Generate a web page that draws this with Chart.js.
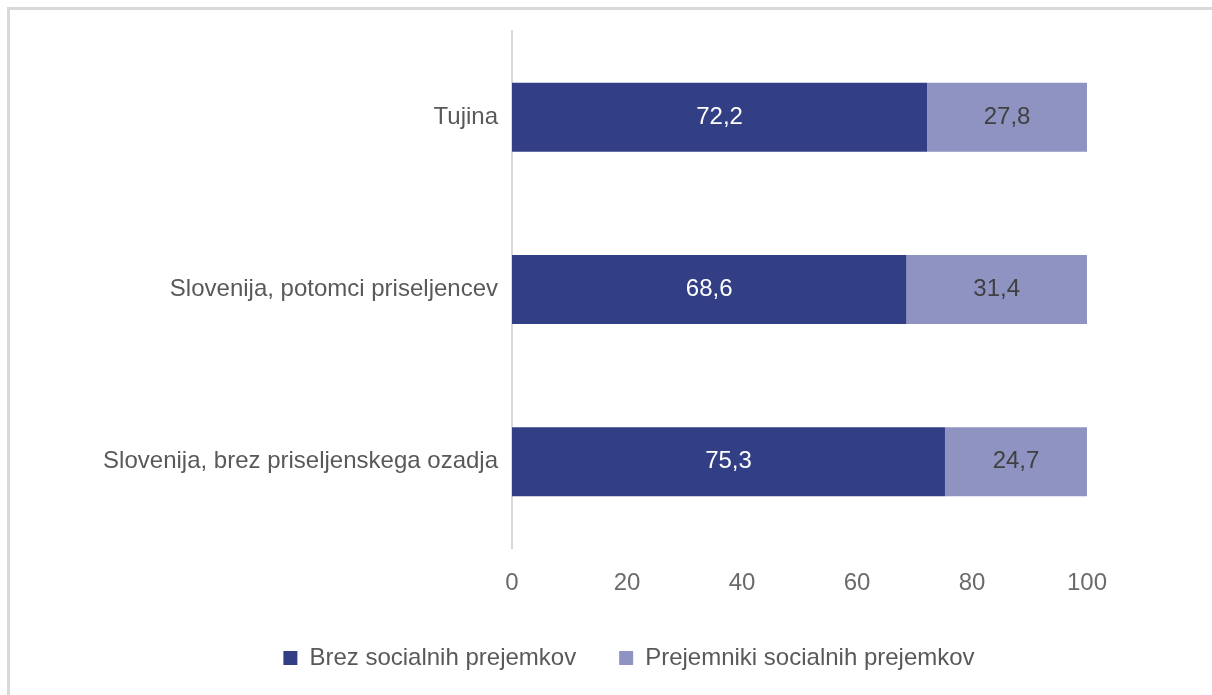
<!DOCTYPE html>
<html>
<head>
<meta charset="utf-8">
<script src="https://cdn.jsdelivr.net/npm/chart.js@4/dist/chart.umd.min.js"></script>
<style>
  html, body { margin: 0; padding: 0; background: #fff; }
  #okvir {
    position: absolute; left: 7px; top: 7px; width: 1300px; height: 800px;
    border-left: 3px solid #d9d9d9; border-top: 3px solid #d9d9d9;
  }
  #wrap { position: absolute; left: 0; top: 0; width: 1212px; height: 695px; }
</style>
</head>
<body>
<div id="okvir"></div>
<div id="wrap"><canvas id="graf"></canvas></div>
<script>
// Podatki
var kategorije = ['Tujina', 'Slovenija, potomci priseljencev', 'Slovenija, brez priseljenskega ozadja'];
var brezPrejemkov = [72.2, 68.6, 75.3];
var prejemniki = [27.8, 31.4, 24.7];
var oznakeSerij = ['Brez socialnih prejemkov', 'Prejemniki socialnih prejemkov'];
var barve = ['#333f85', '#8f93c2'];
var barveOznak = ['#ffffff', '#404040'];

var pisava = '"Liberation Sans Narrow", "Arial Narrow", sans-serif';

// Izpis vrednosti na sredini stolpcev
var oznakeVrednosti = {
    id: 'oznakeVrednosti',
    afterDatasetsDraw: function (chart) {
        var ctx = chart.ctx;
        ctx.save();
        ctx.font = '24px ' + pisava;
        ctx.textAlign = 'center';
        ctx.textBaseline = 'middle';
        chart.data.datasets.forEach(function (ds, i) {
            var meta = chart.getDatasetMeta(i);
            meta.data.forEach(function (bar, j) {
                var sredina = bar.getCenterPoint();
                ctx.fillStyle = barveOznak[i];
                ctx.fillText(ds.data[j].toFixed(1).replace('.', ','), sredina.x, sredina.y);
            });
        });
        ctx.restore();
    }
};

var ctx = document.getElementById('graf').getContext('2d');
new Chart(ctx, {
    type: 'bar',
    data: {
        labels: kategorije,
        datasets: [{
            label: oznakeSerij[0],
            data: brezPrejemkov,
            backgroundColor: barve[0],
            categoryPercentage: 1,
            barPercentage: 0.4
        }, {
            label: oznakeSerij[1],
            data: prejemniki,
            backgroundColor: barve[1],
            categoryPercentage: 1,
            barPercentage: 0.4
        }]
    },
    options: {
        indexAxis: 'y',
        responsive: true,
        maintainAspectRatio: false,
        animation: false,
        layout: { padding: { top: 31, right: 0, left: 46, bottom: 15 } },
        scales: {
            x: {
                stacked: true,
                min: 0,
                max: 100,
                ticks: { stepSize: 20, color: '#6b6b6b', font: { size: 24, family: pisava }, padding: 21 },
                grid: { display: false, drawTicks: false },
                border: { display: false },
                afterFit: function (scale) { scale.height = 55; }
            },
            y: {
                stacked: true,
                ticks: { color: '#595959', font: { size: 24, family: pisava }, padding: 14 },
                grid: { display: false, drawTicks: false },
                border: { display: true, color: '#d9d9d9', width: 2 },
                afterFit: function (scale) { scale.width = 466; }
            },
            // prazen prostor desno od grafa
            desno: {
                axis: 'y',
                type: 'category',
                position: 'right',
                ticks: { display: false },
                grid: { display: false, drawTicks: false },
                border: { display: false },
                afterFit: function (scale) { scale.width = 125; }
            }
        },
        plugins: {
            legend: {
                position: 'bottom',
                labels: {
                    color: '#595959',
                    font: { size: 24, family: pisava },
                    boxWidth: 14,
                    boxHeight: 14,
                    padding: 43
                }
            },
            tooltip: { enabled: false }
        }
    },
    plugins: [oznakeVrednosti]
});
</script>
</body>
</html>
